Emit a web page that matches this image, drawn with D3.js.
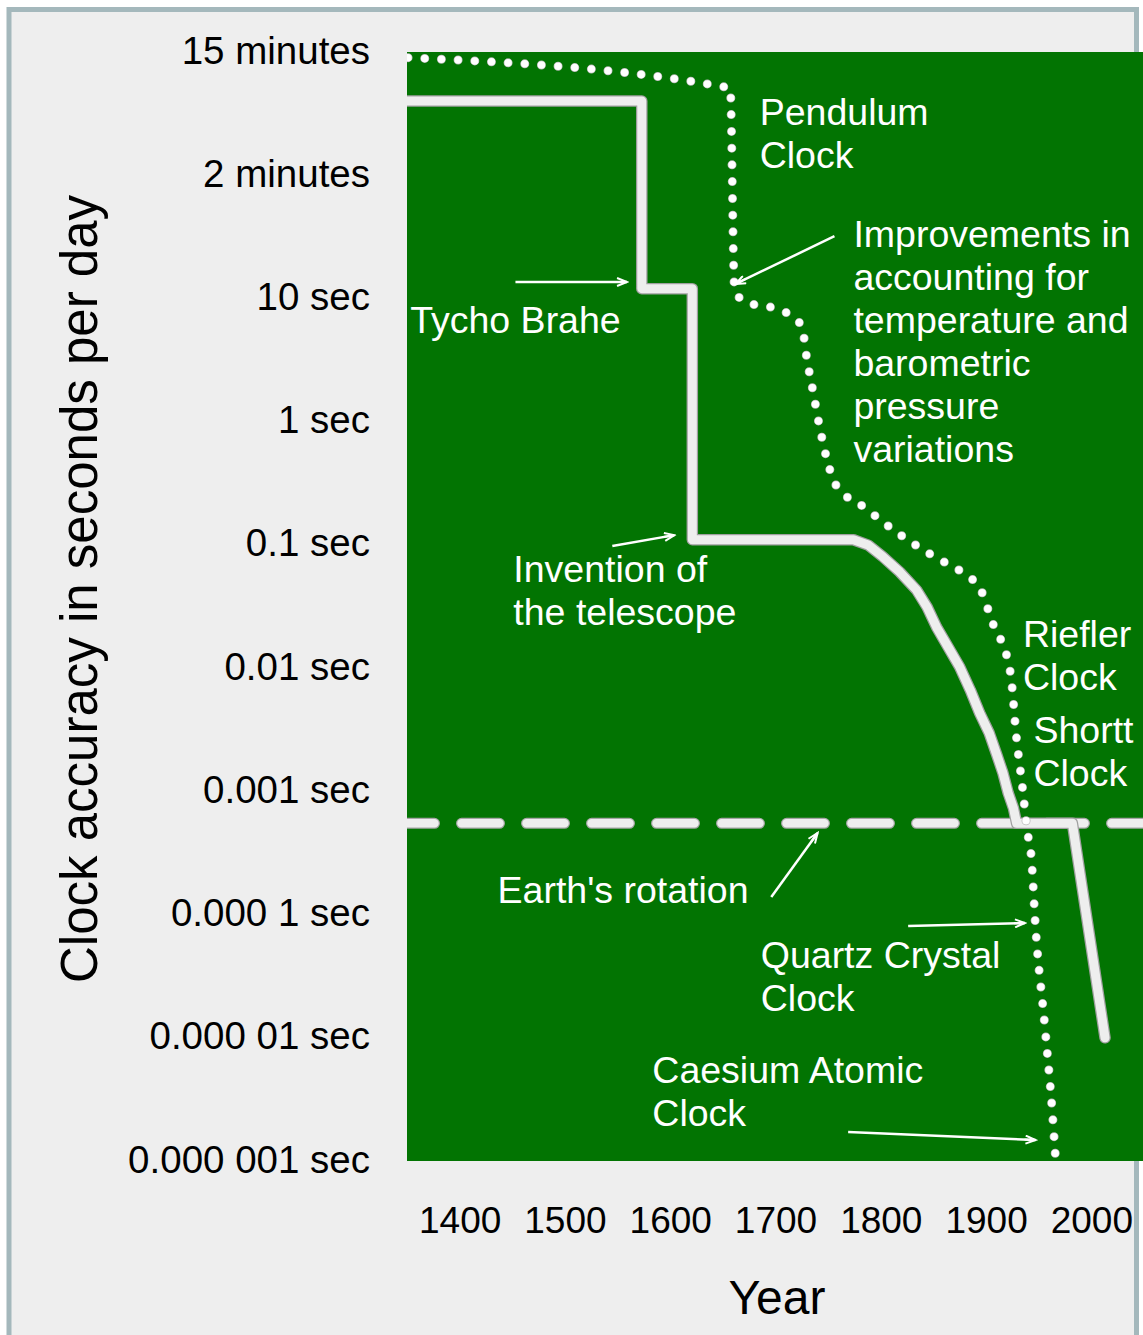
<!DOCTYPE html>
<html lang="en">

<head>
    <meta charset="utf-8">
    <title> Clock accuracy </title>
    <script src="https://d3js.org/d3.v7.min.js"></script>
    <style>
        body { margin: 0; background: #fff; }
        svg { display: block; }
    </style>
</head>

<body>
    <div id="chart"></div>

    <script>
        // tick values and labels
        var yearTicks = [1400, 1500, 1600, 1700, 1800, 1900, 2000];
        var accuracyTicks = [1e3, 1e2, 1e1, 1, 1e-1, 1e-2, 1e-3, 1e-4, 1e-5, 1e-6];
        var accuracyLabels = ["15 minutes", "2 minutes", "10 sec", "1 sec", "0.1 sec", "0.01 sec",
            "0.001 sec", "0.000 1 sec", "0.000 01 sec", "0.000 001 sec"];

        // solid line (best available accuracy)
        var solidYears = [1350, 1573, 1573, 1621, 1621, 1774, 1788, 1802, 1818, 1834, 1844, 1853, 1864, 1875,
            1885, 1894, 1903, 1910, 1916, 1921, 1926, 1929, 1982, 2013];
        var solidSeconds = [400, 400, 12, 12, 0.11, 0.11, 0.0997, 0.08, 0.0603, 0.043, 0.0313, 0.0215, 0.0148, 0.0102,
            0.00664, 0.0043, 0.00297, 0.002, 0.00141, 0.00097, 0.00073, 0.00055, 0.00055, 0.00001];

        // dotted line (clocks)
        var dottedYears = [1351, 1657, 1661, 1666, 1682, 1698, 1714, 1725, 1730, 1736, 1742, 1749, 1757, 1785, 1816,
            1850, 1882, 1894, 1906, 1923, 1929, 1935, 1939, 1943, 1947, 1956, 1963, 1966];
        var dottedSeconds = [900, 510, 12.4, 10.1, 8.8, 8.4, 7.3, 5.9, 3.16, 1.7, 0.9, 0.49, 0.31, 0.2, 0.125,
            0.081, 0.056, 0.045, 0.0236, 0.0093, 0.00266, 0.001, 0.000485, 0.00029, 0.000079, 0.000012, 0.00000245, 0.00000105];

        // Earth's rotation
        var earthSeconds = 0.00055;

        // annotations
        var noteLines = [["Pendulum", "Clock"],
            ["Improvements in", "accounting for", "temperature and", "barometric", "pressure", "variations"],
            ["Tycho Brahe"], ["Invention of", "the telescope"], ["Riefler", "Clock"], ["Shortt", "Clock"],
            ["Earth's rotation"], ["Quartz Crystal", "Clock"], ["Caesium Atomic", "Clock"]];
        var noteYears = [1685, 1774, 1353, 1451, 1935, 1945, 1436, 1686, 1583];
        var noteSeconds = [256, 26.2, 5.24, 0.05, 0.0148, 0.00247, 0.000124, 0.0000368, 0.0000043];

        // arrows: from -> to
        var arrowFromYears = [1756, 1453, 1545, 1696, 1826, 1769];
        var arrowFromSeconds = [32, 13.6, 0.098, 0.000139, 0.0000807, 0.00000172];
        var arrowToYears = [1662, 1559, 1604, 1740, 1937, 1947];
        var arrowToSeconds = [13.1, 13.6, 0.12, 0.000459, 0.0000853, 0.00000148];

        var width = 1143,
            height = 1335;
        var font = "'Liberation Sans', Arial, sans-serif";
        var green = "#027402";

        var svg = d3.select("#chart")
            .append("svg")
            .attr("width", width)
            .attr("height", height);

        var x = d3.scaleLinear().domain([1350, 2050]).range([407, 1144]);
        var y = d3.scaleLog().domain([1e3, 1e-6]).range([52, 1161]);

        // outer frame
        svg.append("rect")
            .attr("x", 9)
            .attr("y", 9.5)
            .attr("width", 1127.5)
            .attr("height", 1400)
            .attr("fill", "#eeeeee")
            .attr("stroke", "#a4b8bc")
            .attr("stroke-width", 5);

        // plot area
        svg.append("defs").append("clipPath")
            .attr("id", "plotclip")
            .append("rect")
            .attr("x", x(1350))
            .attr("y", y(1e3))
            .attr("width", 800)
            .attr("height", y(1e-6) - y(1e3));

        svg.append("rect")
            .attr("x", x(1350))
            .attr("y", y(1e3))
            .attr("width", 800)
            .attr("height", y(1e-6) - y(1e3))
            .attr("fill", green);

        svg.select("defs").append("marker")
            .attr("id", "arrowhead")
            .attr("viewBox", "0 -5 12 10")
            .attr("refX", 11)
            .attr("refY", 0)
            .attr("orient", "auto")
            .attr("markerUnits", "userSpaceOnUse")
            .attr("markerWidth", 14)
            .attr("markerHeight", 10)
            .append("path")
            .attr("d", "M1,-4 L11,0 L1,4 M0,0 L10,0")
            .attr("fill", "none")
            .attr("stroke", "#fff")
            .attr("stroke-width", 2);

        var plot = svg.append("g").attr("clip-path", "url(#plotclip)");

        // Earth's rotation (dashed)
        var earthLine = [[1350, earthSeconds], [2050, earthSeconds]];
        var lineXY = d3.line().x(function(d) { return x(d[0]); }).y(function(d) { return y(d[1]); });
        [["#a6a6a6", 11], ["#eeeeee", 8.5]].forEach(function(s) {
            plot.append("path")
                .attr("d", lineXY(earthLine))
                .attr("fill", "none")
                .attr("stroke", s[0])
                .attr("stroke-width", s[1])
                .attr("stroke-linecap", "round")
                .attr("stroke-dasharray", "38 27")
                .attr("stroke-dashoffset", 10.5);
        });

        // solid line
        var solid = solidYears.map(function(d, i) { return [d, solidSeconds[i]]; });
        [["#a0a0a0", 11.5], ["#eeeeee", 9]].forEach(function(s) {
            plot.append("path")
                .attr("d", lineXY(solid))
                .attr("fill", "none")
                .attr("stroke", s[0])
                .attr("stroke-width", s[1])
                .attr("stroke-linejoin", "round")
                .attr("stroke-linecap", "round");
        });

        // dotted line
        var dotted = dottedYears.map(function(d, i) { return [d, dottedSeconds[i]]; });
        var dottedLine = d3.line()
            .x(function(d) { return x(d[0]); })
            .y(function(d) { return y(d[1]); })
            .curve(d3.curveMonotoneX);
        [["#b8b8b8", 9], ["#ffffff", 7.5]].forEach(function(s) {
            plot.append("path")
                .attr("d", dottedLine(dotted))
                .attr("fill", "none")
                .attr("stroke", s[0])
                .attr("stroke-width", s[1])
                .attr("stroke-linecap", "round")
                .attr("stroke-dasharray", "0 16.7");
        });

        // arrows
        arrowFromYears.forEach(function(d, i) {
            svg.append("line")
                .attr("x1", x(d))
                .attr("y1", y(arrowFromSeconds[i]))
                .attr("x2", x(arrowToYears[i]))
                .attr("y2", y(arrowToSeconds[i]))
                .attr("stroke", "#fff")
                .attr("stroke-width", 2.5)
                .attr("marker-end", "url(#arrowhead)");
        });

        // annotation text
        noteLines.forEach(function(lines, i) {
            var t = svg.append("text")
                .attr("x", x(noteYears[i]))
                .attr("y", y(noteSeconds[i]))
                .attr("fill", "#fff")
                .attr("font-family", font)
                .attr("font-size", 37.5);
            lines.forEach(function(line, j) {
                t.append("tspan")
                    .attr("x", x(noteYears[i]))
                    .attr("dy", j == 0 ? 0 : 43)
                    .text(line);
            });
        });

        // y axis
        var yAxis = svg.append("g")
            .attr("transform", "translate(" + x(1350) + ",0)")
            .call(d3.axisLeft(y)
                .tickValues(accuracyTicks)
                .tickFormat(function(d, i) { return accuracyLabels[i]; })
                .tickSize(0)
                .tickPadding(37));
        yAxis.select(".domain").remove();
        yAxis.selectAll("text")
            .attr("font-family", font)
            .attr("font-size", 38.5)
            .attr("fill", "#000")
            .attr("dy", 11);

        // x axis
        var xAxis = svg.append("g")
            .attr("transform", "translate(0," + y(1e-6) + ")")
            .call(d3.axisBottom(x)
                .tickValues(yearTicks)
                .tickFormat(d3.format("d"))
                .tickSize(0)
                .tickPadding(46));
        xAxis.select(".domain").remove();
        xAxis.selectAll("text")
            .attr("font-family", font)
            .attr("font-size", 37)
            .attr("fill", "#000");

        // axis titles
        svg.append("text")
            .attr("x", 777)
            .attr("y", 1314)
            .attr("text-anchor", "middle")
            .attr("font-family", font)
            .attr("font-size", 48)
            .attr("fill", "#000")
            .text("Year");

        svg.append("text")
            .attr("transform", "translate(97,589) rotate(-90)")
            .attr("text-anchor", "middle")
            .attr("font-family", font)
            .attr("font-size", 51)
            .attr("fill", "#000")
            .text("Clock accuracy in seconds per day");
    </script>

</body>

</html>
